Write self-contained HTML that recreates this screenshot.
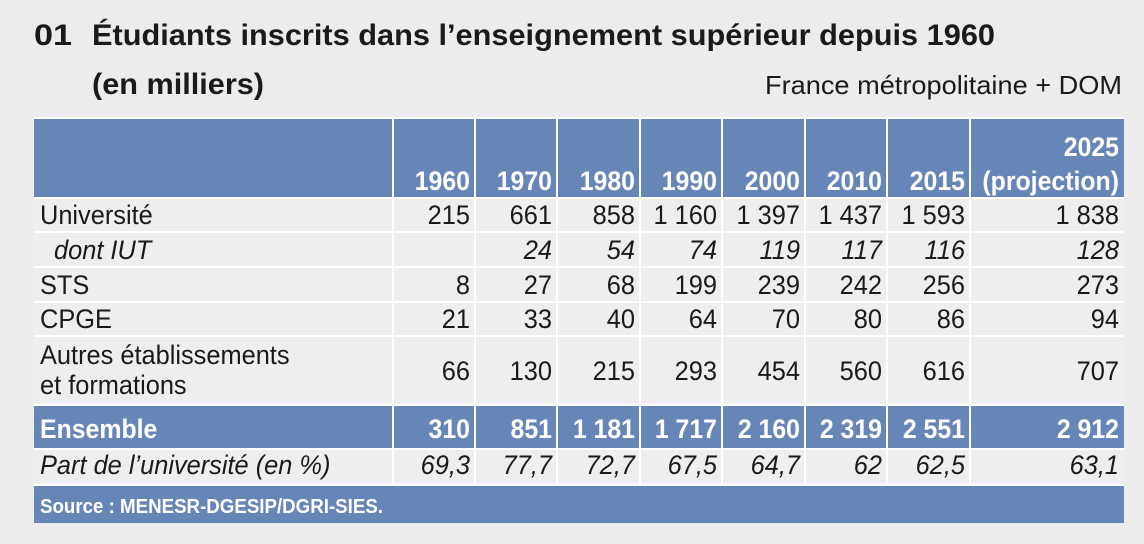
<!DOCTYPE html>
<html><head><meta charset="utf-8"><style>
html,body{margin:0;padding:0;background:#ececec;}
svg{display:block;font-family:"Liberation Sans",sans-serif;}
</style></head><body>
<svg width="1144" height="544" viewBox="0 0 1144 544" xmlns="http://www.w3.org/2000/svg">
<rect width="1144" height="544" fill="#ececec"/>
<text x="34" y="45" font-size="30" font-weight="bold" fill="#1a1a1a" textLength="38" lengthAdjust="spacingAndGlyphs">01</text>
<text x="92" y="45" font-size="30" font-weight="bold" fill="#1a1a1a" textLength="903" lengthAdjust="spacingAndGlyphs">Étudiants inscrits dans l’enseignement supérieur depuis 1960</text>
<text x="92" y="94" font-size="30" font-weight="bold" fill="#1a1a1a" textLength="172" lengthAdjust="spacingAndGlyphs">(en milliers)</text>
<text x="1122" y="94" font-size="26" fill="#1a1a1a" text-anchor="end" textLength="357" lengthAdjust="spacingAndGlyphs">France métropolitaine + DOM</text>

<rect x="34" y="118" width="1090" height="405" fill="#efeeee"/>
<rect x="34" y="118" width="1090" height="80" fill="#6786b8"/>
<rect x="34" y="405" width="1090" height="44" fill="#6786b8"/>
<rect x="34" y="486" width="1090" height="37" fill="#6786b8"/>
<g stroke="#ffffff" stroke-width="2">
<line x1="34" y1="118" x2="1124" y2="118"/>
<line x1="34" y1="198" x2="1124" y2="198"/>
<line x1="34" y1="232" x2="1124" y2="232"/>
<line x1="34" y1="267" x2="1124" y2="267"/>
<line x1="34" y1="302" x2="1124" y2="302"/>
<line x1="34" y1="336" x2="1124" y2="336"/>
<line x1="34" y1="405" x2="1124" y2="405"/>
<line x1="34" y1="449" x2="1124" y2="449"/>
<line x1="34" y1="485" x2="1124" y2="485"/>
</g>
<g stroke="#ffffff" stroke-width="2">
<line x1="393" y1="118" x2="393" y2="485"/>
<line x1="475" y1="118" x2="475" y2="485"/>
<line x1="557" y1="118" x2="557" y2="485"/>
<line x1="640" y1="118" x2="640" y2="485"/>
<line x1="722" y1="118" x2="722" y2="485"/>
<line x1="805" y1="118" x2="805" y2="485"/>
<line x1="887" y1="118" x2="887" y2="485"/>
<line x1="970" y1="118" x2="970" y2="485"/>
</g>

<g font-size="27" font-weight="bold" fill="#fff" text-anchor="end">
<text transform="translate(470,190) scale(.92,1)">1960</text>
<text transform="translate(552,190) scale(.92,1)">1970</text>
<text transform="translate(635,190) scale(.92,1)">1980</text>
<text transform="translate(717,190) scale(.92,1)">1990</text>
<text transform="translate(800,190) scale(.92,1)">2000</text>
<text transform="translate(882,190) scale(.92,1)">2010</text>
<text transform="translate(965,190) scale(.92,1)">2015</text>
<text transform="translate(1119,156) scale(.92,1)">2025</text>
<text transform="translate(1119,190) scale(.92,1)">(projection)</text>
</g>

<g font-size="27" fill="#1a1a1a">
<text transform="translate(40,224) scale(.94,1)">Université</text>
<text transform="translate(54,259) scale(.94,1)" font-style="italic">dont IUT</text>
<text transform="translate(40,294) scale(.94,1)">STS</text>
<text transform="translate(40,328) scale(.94,1)">CPGE</text>
<text transform="translate(40,364) scale(.94,1)">Autres établissements</text>
<text transform="translate(40,394) scale(.94,1)">et formations</text>
<text transform="translate(40,474) scale(.94,1)" font-style="italic">Part de l’université (en %)</text>
</g>
<text transform="translate(40,438) scale(.92,1)" font-size="27" font-weight="bold" fill="#fff">Ensemble</text>
<text x="40" y="513" font-size="20" font-weight="bold" fill="#fff" textLength="343" lengthAdjust="spacingAndGlyphs">Source : MENESR-DGESIP/DGRI-SIES.</text>

<g font-size="27" fill="#1a1a1a" text-anchor="end">
<g transform="translate(0,224)">
<text transform="translate(470,0) scale(.94,1)">215</text>
<text transform="translate(552,0) scale(.94,1)">661</text>
<text transform="translate(635,0) scale(.94,1)">858</text>
<text transform="translate(717,0) scale(.94,1)">1 160</text>
<text transform="translate(800,0) scale(.94,1)">1 397</text>
<text transform="translate(882,0) scale(.94,1)">1 437</text>
<text transform="translate(965,0) scale(.94,1)">1 593</text>
<text transform="translate(1119,0) scale(.94,1)">1 838</text>
</g>
<g transform="translate(0,259)" font-style="italic">
<text transform="translate(552,0) scale(.94,1)">24</text>
<text transform="translate(635,0) scale(.94,1)">54</text>
<text transform="translate(717,0) scale(.94,1)">74</text>
<text transform="translate(800,0) scale(.94,1)">119</text>
<text transform="translate(882,0) scale(.94,1)">117</text>
<text transform="translate(965,0) scale(.94,1)">116</text>
<text transform="translate(1119,0) scale(.94,1)">128</text>
</g>
<g transform="translate(0,294)">
<text transform="translate(470,0) scale(.94,1)">8</text>
<text transform="translate(552,0) scale(.94,1)">27</text>
<text transform="translate(635,0) scale(.94,1)">68</text>
<text transform="translate(717,0) scale(.94,1)">199</text>
<text transform="translate(800,0) scale(.94,1)">239</text>
<text transform="translate(882,0) scale(.94,1)">242</text>
<text transform="translate(965,0) scale(.94,1)">256</text>
<text transform="translate(1119,0) scale(.94,1)">273</text>
</g>
<g transform="translate(0,328)">
<text transform="translate(470,0) scale(.94,1)">21</text>
<text transform="translate(552,0) scale(.94,1)">33</text>
<text transform="translate(635,0) scale(.94,1)">40</text>
<text transform="translate(717,0) scale(.94,1)">64</text>
<text transform="translate(800,0) scale(.94,1)">70</text>
<text transform="translate(882,0) scale(.94,1)">80</text>
<text transform="translate(965,0) scale(.94,1)">86</text>
<text transform="translate(1119,0) scale(.94,1)">94</text>
</g>
<g transform="translate(0,380)">
<text transform="translate(470,0) scale(.94,1)">66</text>
<text transform="translate(552,0) scale(.94,1)">130</text>
<text transform="translate(635,0) scale(.94,1)">215</text>
<text transform="translate(717,0) scale(.94,1)">293</text>
<text transform="translate(800,0) scale(.94,1)">454</text>
<text transform="translate(882,0) scale(.94,1)">560</text>
<text transform="translate(965,0) scale(.94,1)">616</text>
<text transform="translate(1119,0) scale(.94,1)">707</text>
</g>
<g transform="translate(0,474)" font-style="italic">
<text transform="translate(470,0) scale(.94,1)">69,3</text>
<text transform="translate(552,0) scale(.94,1)">77,7</text>
<text transform="translate(635,0) scale(.94,1)">72,7</text>
<text transform="translate(717,0) scale(.94,1)">67,5</text>
<text transform="translate(800,0) scale(.94,1)">64,7</text>
<text transform="translate(882,0) scale(.94,1)">62</text>
<text transform="translate(965,0) scale(.94,1)">62,5</text>
<text transform="translate(1119,0) scale(.94,1)">63,1</text>
</g>
</g>
<g font-size="27" font-weight="bold" fill="#fff" text-anchor="end" transform="translate(0,438)">
<text transform="translate(470,0) scale(.92,1)">310</text>
<text transform="translate(552,0) scale(.92,1)">851</text>
<text transform="translate(635,0) scale(.92,1)">1 181</text>
<text transform="translate(717,0) scale(.92,1)">1 717</text>
<text transform="translate(800,0) scale(.92,1)">2 160</text>
<text transform="translate(882,0) scale(.92,1)">2 319</text>
<text transform="translate(965,0) scale(.92,1)">2 551</text>
<text transform="translate(1119,0) scale(.92,1)">2 912</text>
</g>
</svg>
</body></html>
